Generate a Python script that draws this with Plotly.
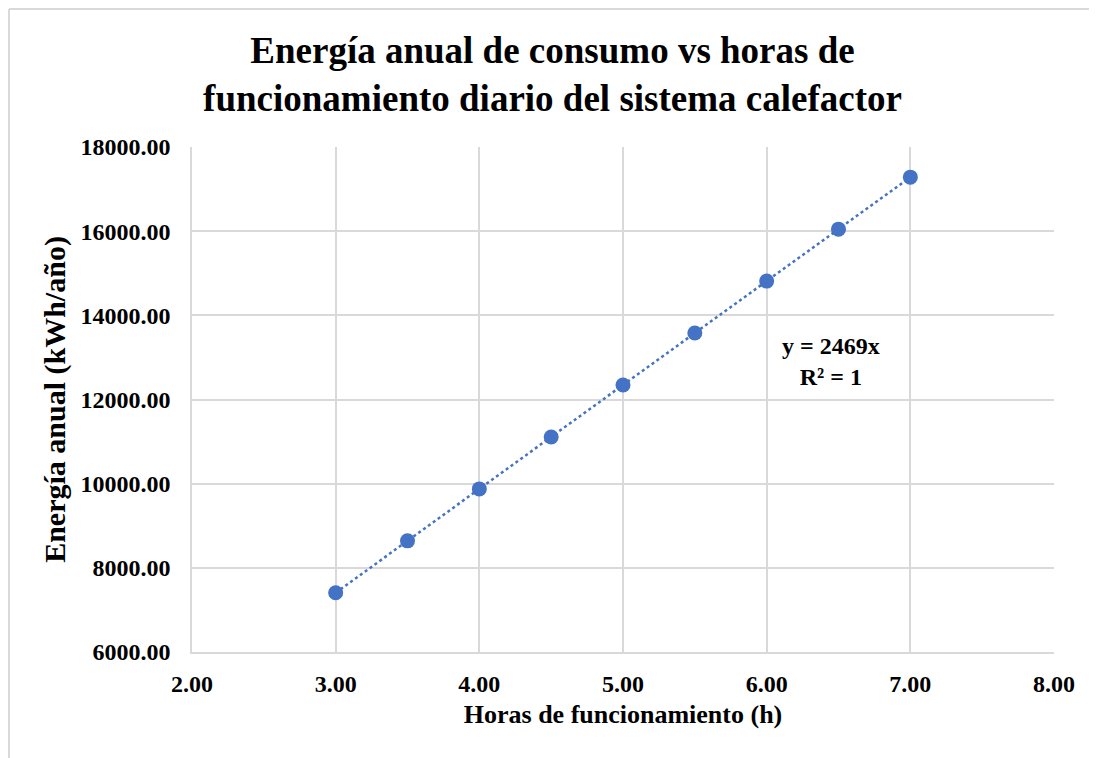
import numpy as np
import plotly.graph_objects as go

horas = [3.0, 3.5, 4.0, 4.5, 5.0, 5.5, 6.0, 6.5, 7.0]
energia = [7407, 8641.5, 9876, 11110.5, 12345, 13579.5, 14814, 16048.5, 17283]

x = np.array(horas)
y = np.array(energia)
slope = float((x * y).sum() / (x * x).sum())
trend_x = [min(horas), max(horas)]
trend_y = [slope * v for v in trend_x]

FONT = "Liberation Serif"
BLUE = "#4472C4"
GRID = "#D9D9D9"

W, H = 1089, 750
L, R, T, B = 184, 43, 139, 106
PW, PH = W - L - R, H - T - B

fig = go.Figure()
fig.add_trace(go.Scatter(x=trend_x, y=trend_y, mode="lines",
                         line=dict(color=BLUE, width=2.5, dash="dot"),
                         hoverinfo="skip", showlegend=False))
fig.add_trace(go.Scatter(x=horas, y=energia, mode="markers",
                         marker=dict(color=BLUE, size=15),
                         showlegend=False))

fig.add_annotation(x=6.45, y=12900, xref="x", yref="y",
                   text="<b>y = 2469x<br>R² = 1</b>", showarrow=False,
                   font=dict(family=FONT, size=24, color="#000000"), align="center")

left_x = (-L + 1) / PW
top_y = (PH + T - 1) / PH
fig.add_shape(type="line", xref="paper", yref="paper",
              x0=left_x, x1=(PW + R) / PW, y0=top_y, y1=top_y,
              line=dict(color="#D9D9D9", width=2), layer="below")
fig.add_shape(type="line", xref="paper", yref="paper",
              x0=left_x, x1=left_x, y0=-B / PH, y1=top_y,
              line=dict(color="#D9D9D9", width=2), layer="below")

fig.update_layout(
    width=W, height=H,
    paper_bgcolor="white", plot_bgcolor="white",
    margin=dict(l=L, r=R, t=T, b=B),
    title=dict(text="<b>Energía anual de consumo vs horas de<br>funcionamiento diario del sistema calefactor</b>",
               x=0.5, xanchor="center", y=1 - 55 / H, yanchor="middle",
               font=dict(family=FONT, size=37, color="#000000")),
    font=dict(family=FONT, color="#000000"),
    xaxis=dict(range=[2, 8], dtick=1, tickformat=".2f",
               showgrid=True, gridcolor=GRID, gridwidth=1.5,
               showline=True, linecolor=GRID, linewidth=1.5,
               zeroline=False, ticks="", ticklabelstandoff=9,
               tickfont=dict(family=FONT, size=24, color="#000000"),
               tickprefix="<b>", ticksuffix="</b>",
               title=dict(text="<b>Horas de funcionamiento (h)</b>",
                          font=dict(family=FONT, size=26, color="#000000"), standoff=9)),
    yaxis=dict(range=[6000, 18000], dtick=2000, tickformat=".2f",
               showgrid=True, gridcolor=GRID, gridwidth=1.5,
               showline=True, linecolor=GRID, linewidth=1.5,
               zeroline=False, ticks="", ticklabelstandoff=15,
               tickfont=dict(family=FONT, size=24, color="#000000"),
               tickprefix="<b>", ticksuffix="</b>",
               title=dict(text="<b>Energía anual (kWh/año)</b>",
                          font=dict(family=FONT, size=30, color="#000000"), standoff=6)),
)

fig.write_html("out.html")
